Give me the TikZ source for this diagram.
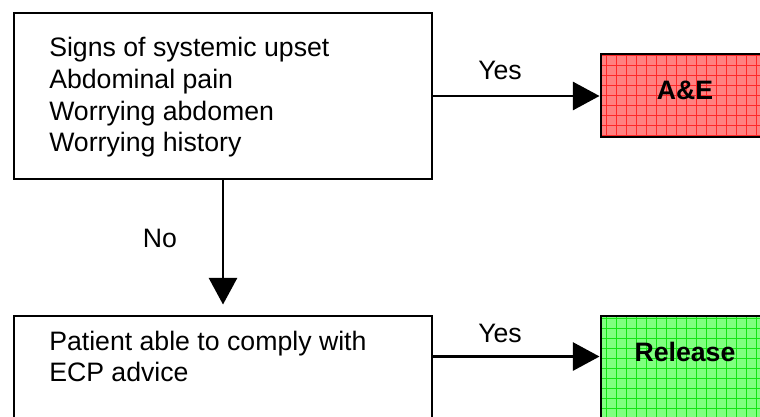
\documentclass[tikz,border=0pt]{standalone}
\usepackage{fontspec}
\setmainfont{Liberation Sans}
\usetikzlibrary{arrows.meta,calc}
\definecolor{redbase}{RGB}{255,128,128}
\definecolor{redline}{RGB}{255,40,40}
\definecolor{greenbase}{RGB}{128,255,128}
\definecolor{greenline}{RGB}{20,230,20}
\begin{document}
\begin{tikzpicture}[x=0.75pt,y=-0.75pt,
  box/.style={draw=black,line width=2.2pt,rectangle,inner sep=0pt},
  txt/.style={inner sep=0pt,font=\fontsize{20}{23.75}\selectfont},
  arr/.style={line width=2.2pt,-{Triangle[length=20pt,width=21pt]}},
  redbox/.style={box,fill=redbase,path picture={\draw[redline,line width=0.45pt] (path picture bounding box.south west) grid[step=7.5pt] (path picture bounding box.north east);}},
  greenbox/.style={box,fill=greenbase,path picture={\draw[greenline,line width=0.45pt] (path picture bounding box.south west) grid[step=7.5pt] (path picture bounding box.north east);}},
]
\clip (0,0) rectangle (760,417);
\fill[white] (0,0) rectangle (760,417);

\node[box,minimum width=313.5pt,minimum height=124.5pt] (q1) at (223,96) {};
\node[box,minimum width=313.5pt,minimum height=123pt] (q2) at (223,398) {};
\node[redbox,minimum width=127.5pt,minimum height=62.25pt] (ae) at (686,95.5) {};
\node[greenbox,minimum width=127.5pt,minimum height=123pt] (rel) at (686,398) {};

\node[txt,anchor=base west] (t1) at (49,57) {\begin{tabular}[t]{@{}l@{}}Signs of systemic upset\\Abdominal pain\\Worrying abdomen\\Worrying history\end{tabular}};
\node[txt,anchor=base west] (t2) at (49,350) {\begin{tabular}[t]{@{}l@{}}Patient able to comply with\\ECP advice\end{tabular}};

\node[txt,anchor=base] (lae) at (685,100) {\bfseries A\&E};
\node[txt,anchor=base] (lrel) at (685,361) {\bfseries Release};

\draw[arr] (q1.east) -- (q1.east -| ae.west);
\coordinate (b) at ($(q2.north east)+(0,42)$);
\draw[arr] (b) -- (b -| rel.west);
\draw[arr,shorten >=7.5pt] (q1.south) -- (q2.north);

\node[txt,anchor=base] (yes1) at (500,80) {Yes};
\node[txt,anchor=base] (yes2) at (500,342) {Yes};
\node[txt,anchor=base] (no) at (160,247) {No};
\end{tikzpicture}
\end{document}
